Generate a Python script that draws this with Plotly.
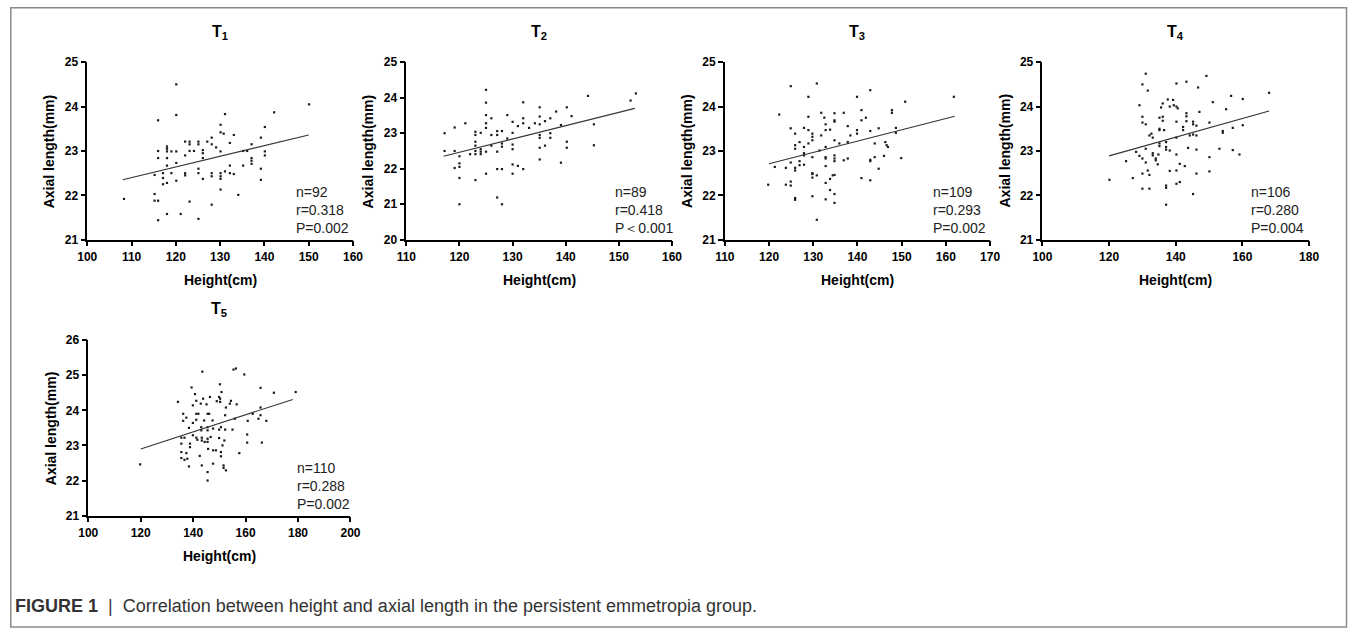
import plotly.graph_objects as go

W, H = 1357, 635
# The photographed page is mapped into an inset frame (8px in from each edge), so
# target picture positions are converted with these constants.
INSET = 8
FRAME_W, FRAME_H = W - 2 * INSET, H - 2 * INSET

# ---------------- data ----------------
panel_names = ["T<sub>1</sub>", "T<sub>2</sub>", "T<sub>3</sub>", "T<sub>4</sub>", "T<sub>5</sub>"]

t1_height = [108.3, 116.0, 116.0, 116.0, 115.2, 115.2, 115.2, 116.0, 116.0, 117.1, 117.1, 117.1,
             118, 118, 118, 118, 118, 118, 118, 119, 119, 120.1, 120.1, 120.1, 120.1, 120.1, 121.1,
             122.1, 122.1, 122.1, 122.1, 123.1, 123.1, 123.1, 123.1, 124.1, 125.1, 125.1, 125.1, 125.1, 125.1,
             126.1, 126.1, 126.1, 126.1, 127.1, 128.1, 128.1, 128.1, 128.1, 128.1, 129.1,
             130.1, 130.1, 130.1, 130.1, 130.1, 130.1, 130.1, 130.8, 131.1, 131.1, 132.2, 132.2, 132.2,
             133.1, 133.1, 134.1, 135.2, 135.2, 136.1, 137.1, 137.1, 137.1, 137.1, 139.2, 139.2, 139.2,
             140.1, 140.1, 140.1, 142.2, 150.1]
t1_axial = [21.92, 23.69, 23.0, 22.84, 22.46, 22.03, 21.88, 21.88, 21.44, 22.39, 22.25, 22.5,
            23.1, 23.05, 22.99, 22.84, 22.67, 22.28, 21.58, 22.99, 22.5, 24.5, 23.81, 22.99, 22.73, 22.33, 21.58,
            23.21, 22.9, 22.5, 22.45, 23.21, 23.15, 23.0, 21.86, 23.0, 23.21, 23.15, 22.6, 22.5, 21.47,
            23.02, 22.95, 22.84, 22.37, 23.21, 23.3, 23.15, 22.5, 22.43, 21.79, 23.08,
            23.59, 23.42, 22.99, 22.5, 22.43, 22.37, 22.13, 23.39, 23.83, 22.54, 23.18, 22.67, 22.5,
            23.36, 22.48, 22.01, 23.0, 22.67, 23.0, 23.15, 22.84, 22.78, 22.71, 23.3, 22.6, 22.35,
            23.54, 22.99, 22.9, 23.87, 24.05]

t2_height = [117.2, 117.2, 119.1, 119.1, 119.1, 120, 120, 120, 120, 120, 121.1, 122,
             123, 123, 123, 123, 123, 123, 123, 124, 124, 124, 124,
             125, 125, 125, 125, 125, 125, 125, 126, 126, 126,
             127.1, 127.1, 127.1, 127.1, 127.1, 128, 128, 128, 128, 128, 129, 129,
             130, 130, 130, 130, 130, 130, 131, 131, 132, 132, 132, 132, 133.1, 134.2,
             135.1, 135.1, 135.1, 135.1, 135.1, 135.1, 135.1, 136.1, 136.1, 137.1, 137.1, 137.1,
             138.2, 139.1, 139.1, 140.2, 140.2, 140.2, 141.1, 144.2, 145.3, 145.3, 152.2, 153.2]
t2_axial = [23.0, 22.5, 23.16, 22.5, 22.02, 22.35, 22.15, 22.05, 21.74, 21.0, 23.28, 22.41,
            23.04, 22.95, 22.76, 22.65, 22.5, 22.41, 21.68, 23.01, 22.55, 22.48, 22.41,
            24.22, 23.86, 23.51, 23.28, 23.15, 22.48, 21.86, 23.42, 22.95, 22.65,
            23.06, 22.95, 22.48, 21.99, 21.19, 23.06, 22.71, 22.62, 21.99, 21.0, 23.51, 22.85,
            23.32, 23.01, 22.68, 22.55, 22.12, 21.86, 23.2, 22.08, 23.87, 23.42, 23.28, 21.99, 23.15, 23.28,
            23.73, 23.47, 23.25, 22.95, 22.87, 22.59, 22.26, 23.34, 22.65, 23.42, 23.0, 22.87,
            23.61, 23.23, 22.17, 23.73, 22.76, 22.59, 23.48, 24.05, 23.25, 22.66, 23.92, 24.12]

t3_height = [119.8, 121.3, 122.3, 123.8, 123.8, 124.9, 124.9, 124.9, 124.9, 124.9,
             125.9, 125.9, 125.9, 125.9, 125.9, 125.9, 125.9, 126.9, 126.9, 126.9,
             127.9, 127.9, 127.9, 127.9, 127.9, 128.9, 128.9, 128.9, 128.9,
             129.8, 129.8, 129.8, 129.8, 129.8, 129.8, 129.8, 129.8, 130.8, 130.8, 130.8,
             131.4, 131.8, 131.8, 132.5, 132.8, 132.8, 132.8, 132.8, 132.8, 132.8, 132.8, 132.8,
             133.8, 133.8, 133.8, 134.4, 134.8, 134.8, 134.8, 134.8, 134.8, 134.8, 134.8, 134.8, 134.8, 134.8,
             135.9, 136.9, 136.9, 137.8, 137.8, 137.8, 138.4, 139.9, 139.9, 139.9, 140.9, 140.9, 140.9,
             141.9, 142.9, 142.9, 142.9, 142.9, 142.9, 143.9, 143.9, 144.8, 144.8, 146.0,
             146.3, 146.6, 146.9, 147.8, 147.8, 148.7, 148.7, 149.9, 150.8, 161.8]
t3_axial = [22.24, 22.64, 23.82, 22.62, 22.24, 24.46, 23.51, 22.74, 22.31, 22.22,
            23.39, 23.13, 23.05, 22.62, 22.56, 21.94, 21.9, 23.2, 22.77, 22.68,
            23.52, 23.09, 22.95, 22.9, 22.69, 24.22, 23.77, 23.47, 23.17,
            23.39, 23.32, 23.24, 22.86, 22.5, 22.48, 22.4, 21.98, 24.52, 22.45, 21.45,
            23.01, 23.35, 23.86, 23.75, 23.6, 23.47, 23.09, 22.86, 22.83, 22.66, 22.28, 21.91,
            23.48, 22.37, 22.12, 22.45, 23.85, 23.69, 23.66, 23.24, 22.9, 22.83, 22.77, 22.46, 22.03, 21.83,
            23.17, 23.86, 22.79, 23.56, 23.2, 22.83, 23.35, 24.22, 23.47, 23.39, 23.92, 23.69, 22.39,
            23.75, 24.37, 23.45, 22.8, 22.77, 22.34, 23.17, 22.86, 23.51, 22.6, 22.89,
            23.2, 23.13, 23.09, 23.92, 23.86, 23.52, 23.41, 22.84, 24.11, 24.22]

t4_height = [120.1, 125.1, 127.1, 128.1, 129.1, 129.1, 130, 130, 130, 130, 130, 130,
             131, 131, 131, 131, 131.6, 131.6, 132.1, 132.1, 132.1, 132.7, 133.1, 133.1, 133.1,
             134, 134, 134.6, 134.8, 135.1, 135.1, 135.1, 135.1, 135.1, 135.6, 136.1, 136.1, 136.1,
             136.5, 137.1, 137.1, 137.1, 137.1, 137.1, 137.1, 137.6, 138.2, 138.2, 138.2, 139.2, 139.4,
             140.2, 140.2, 140.2, 140.2, 140.2, 140.2, 140.2, 140.6, 141.2, 141.2, 142.2, 142.2, 142.7,
             143.2, 143.2, 143.2, 143.2, 143.7, 144.2, 145.2, 145.2, 145.2, 145.2,
             146.2, 146.2, 146.2, 146.2, 146.7, 147.1, 149.2, 150.1, 150.1, 150.1, 151.1, 153.1,
             154.1, 154.1, 155.1, 156.6, 157.1, 157.1, 159.1, 160.1, 160.1, 168]
t4_axial = [22.35, 22.77, 22.39, 22.98, 24.03, 22.89, 24.5, 23.77, 23.64, 22.83, 22.49, 22.15,
            24.74, 23.6, 23.05, 22.74, 24.36, 22.56, 23.35, 22.46, 22.15, 23.39, 23.3, 22.95, 22.9,
            22.83, 22.79, 22.7, 22.92, 23.75, 23.5, 23.47, 23.17, 23.11, 23.98, 24.07, 23.77, 23.68,
            23.47, 23.2, 23.09, 23.03, 22.22, 22.17, 21.79, 24.16, 24.0, 23.01, 22.55, 24.15, 24.03,
            24.52, 24.0, 23.66, 23.3, 22.92, 22.56, 22.26, 23.96, 22.3, 22.71, 23.54, 23.47, 22.66,
            24.56, 23.85, 23.78, 23.67, 23.07, 23.35, 23.66, 23.6, 23.37, 22.03,
            23.57, 23.35, 23.03, 22.49, 24.43, 23.88, 24.69, 23.64, 22.86, 22.54, 24.1, 23.05,
            23.45, 23.41, 23.94, 24.24, 23.52, 23.02, 22.92, 24.17, 23.58, 24.31]

t5_height = [119.8, 134.2, 135.5, 135.5, 135.5, 135.5, 136.2, 136.2, 136.7, 136.7, 137.4, 137.4,
             137.8, 138.4, 138.4, 138.8, 138.8, 139.4, 139.9, 139.9, 139.9, 140.7,
             141.2, 141.2, 141.2, 141.2, 141.6, 142.0, 142.5, 142.9, 143.1, 143.1, 143.3, 143.3, 143.3,
             143.5, 143.8, 144.2, 144.4, 145.1, 145.5, 145.5, 145.5, 145.5, 145.5, 145.5, 145.5,
             145.7, 146.1, 146.4, 146.7, 147.4, 147.6, 147.6, 147.6, 148.7, 149.0, 149.9, 149.9, 149.9,
             150.2, 150.3, 150.3, 150.6, 150.6, 150.6, 150.8, 151.2, 151.6, 151.6, 151.9, 152.2, 152.2,
             152.5, 152.5, 154.0, 154.4, 155.0, 155.4, 156.3, 155.9, 156.6, 157.6, 159.5, 160.6, 160.6,
             160.8, 162.7, 164.9, 165.7, 165.7, 165.7, 166.2, 167.9, 170.8, 179.1]
t5_axial = [22.46, 24.24, 23.22, 23.05, 22.81, 22.64, 23.9, 23.7, 23.22, 22.59, 23.79, 22.78,
            22.62, 23.5, 22.4, 23.05, 22.95, 24.65, 24.14, 23.64, 23.29, 24.46,
            24.27, 23.9, 23.73, 23.22, 23.16, 23.9, 22.7, 24.19, 23.52, 23.43, 23.22, 23.14, 22.43,
            25.1, 24.33, 23.71, 23.1, 24.17, 23.9, 23.52, 23.43, 23.19, 23.1, 22.24, 22.0,
            22.9, 23.9, 24.38, 23.24, 23.71, 23.48, 22.86, 22.48, 22.86, 24.26, 23.45, 23.21, 24.38,
            24.74, 24.33, 24.24, 23.52, 22.81, 22.69, 24.52, 23.0, 22.43, 22.36, 23.14, 23.86, 23.45,
            22.29, 24.08, 24.19, 24.27, 23.45, 25.16, 25.19, 23.76, 24.17, 22.78, 25.02, 23.31, 23.08,
            23.7, 23.9, 23.76, 24.64, 24.08, 23.86, 23.08, 23.7, 24.5, 24.52]

# regression lines (end points)
fit_x = [[108, 150], [117, 153], [120, 162], [120, 168], [120, 178]]
fit_y = [[22.35, 23.36], [22.35, 23.70], [22.71, 23.78], [22.89, 23.90], [22.90, 24.31]]

n_values = [92, 89, 109, 106, 110]
r_values = ["0.318", "0.418", "0.293", "0.280", "0.288"]
p_values = ["P=0.002", "P＜0.001", "P=0.002", "P=0.004", "P=0.002"]

x_ranges = [[100, 160], [110, 160], [110, 170], [100, 180], [100, 200]]
x_dticks = [10, 10, 10, 20, 20]
y_ranges = [[21, 25], [20, 25], [21, 25], [21, 25], [21, 26]]

heights = [t1_height, t2_height, t3_height, t4_height, t5_height]
axials = [t1_axial, t2_axial, t3_axial, t4_axial, t5_axial]

# ---------------- layout geometry (target picture pixels) ----------------
panel_left = [85.5, 405.5, 725.0, 1043.5, 86.5]
panel_width = [266.5, 266.5, 266.0, 267.5, 263.0]
panel_top = [63, 63, 63, 63, 340]
panel_bottom = [240, 240, 240, 240, 515]

FONT = "Arial, Liberation Sans, sans-serif"


def px(x):
    return (x - INSET) / FRAME_W


def py(y):
    return 1 - (y - INSET) / FRAME_H


fig = go.Figure()
layout = dict(
    width=W, height=H, margin=dict(l=0, r=0, t=0, b=0),
    paper_bgcolor="white", plot_bgcolor="white", showlegend=False,
    font=dict(family=FONT, color="black"),
)
annotations = []

for i in range(5):
    k = i + 1
    xa = "x" if k == 1 else f"x{k}"
    ya = "y" if k == 1 else f"y{k}"
    fig.add_trace(go.Scatter(
        x=heights[i], y=axials[i], mode="markers", xaxis=xa, yaxis=ya,
        marker=dict(size=2.2, color="#1a1a1a", symbol="square"), cliponaxis=False,
    ))
    fig.add_trace(go.Scatter(
        x=fit_x[i], y=fit_y[i], mode="lines", xaxis=xa, yaxis=ya,
        line=dict(color="#333333", width=1.1),
    ))
    x0 = panel_left[i]
    x1 = x0 + panel_width[i]
    yt, yb = panel_top[i], panel_bottom[i]
    axis_common = dict(
        showline=True, linecolor="black", linewidth=1.5, ticks="outside", ticklen=5,
        tickwidth=1.5, tickcolor="black", showgrid=False, zeroline=False,
        tickfont=dict(family=FONT, size=12, color="black", weight="bold"), fixedrange=True,
    )
    layout["xaxis" if k == 1 else f"xaxis{k}"] = dict(
        domain=[px(x0), px(x1)], range=x_ranges[i], tick0=x_ranges[i][0], dtick=x_dticks[i],
        anchor=ya, **axis_common)
    layout["yaxis" if k == 1 else f"yaxis{k}"] = dict(
        domain=[py(yb), py(yt)], range=y_ranges[i], tick0=y_ranges[i][0], dtick=1,
        anchor=xa, **axis_common)

    cx = (x0 + x1) / 2
    annotations.append(dict(
        text=f"<b>{panel_names[i]}</b>", x=px(cx), y=py(yt - 30), xref="paper", yref="paper",
        showarrow=False, font=dict(family=FONT, size=16, color="black"), xanchor="center", yanchor="middle"))
    annotations.append(dict(
        text="<b>Height(cm)</b>", x=px(cx), y=py(yb + 40), xref="paper", yref="paper",
        showarrow=False, font=dict(family=FONT, size=14, color="black"), xanchor="center", yanchor="middle"))
    annotations.append(dict(
        text="<b>Axial length(mm)</b>", x=px(x0 - 38), y=py((yt + yb) / 2), xref="paper", yref="paper",
        showarrow=False, textangle=-90, font=dict(family=FONT, size=14, color="black"),
        xanchor="center", yanchor="middle"))
    annotations.append(dict(
        text=f"n={n_values[i]}<br>r={r_values[i]}<br>{p_values[i]}", x=px(x0 + 207), y=py(yb - 30),
        xref="paper", yref="paper", showarrow=False, align="left",
        font=dict(family=FONT, size=14, color="#222222"), xanchor="left", yanchor="middle"))

annotations.append(dict(
    text="<b>FIGURE 1</b>  |  Correlation between height and axial length in the persistent emmetropia group.",
    x=px(11), y=py(605), xref="paper", yref="paper", showarrow=False, xanchor="left", yanchor="middle",
    font=dict(family=FONT, size=18, color="#333333")))

layout["annotations"] = annotations
layout["shapes"] = [dict(
    type="rect", xref="paper", yref="paper", x0=px(8.8), x1=px(1348.5), y0=py(626), y1=py(8.8),
    line=dict(color="#8a8a8a", width=1.5), fillcolor="rgba(0,0,0,0)")]

fig.update_layout(**layout)
fig.write_html("out.html", config={"displayModeBar": False},
               post_script="document.body.style.margin='0';document.body.style.overflow='hidden';")
